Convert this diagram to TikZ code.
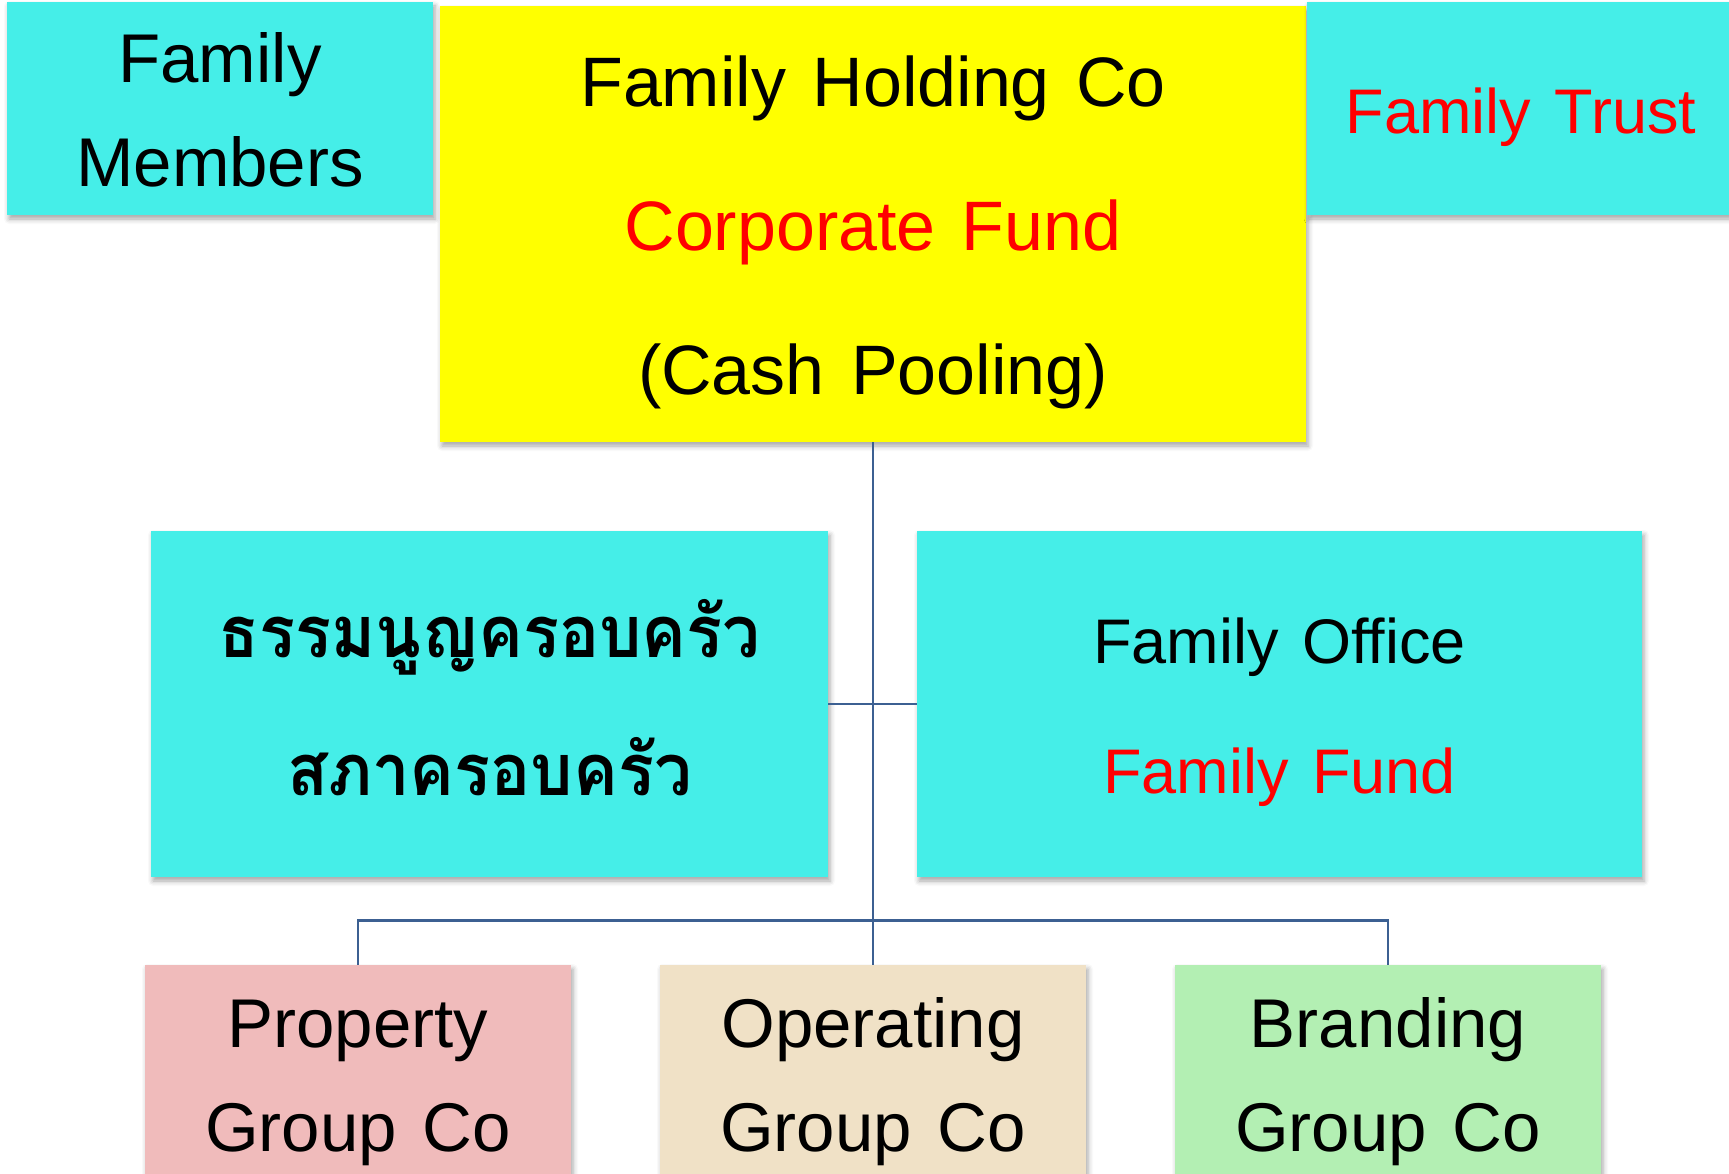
\documentclass[tikz,border=0pt]{standalone}
\usepackage{fontspec}
\setmainfont[WordSpace=1.35]{Liberation Sans}
\newfontfamily\thaifont[Script=Thai]{Loma}
\usetikzlibrary{shadows,shadows.blur}
\definecolor{cyanbox}{RGB}{69,238,232}
\definecolor{yellowbox}{RGB}{255,255,0}
\definecolor{pinkbox}{RGB}{240,187,187}
\definecolor{beigebox}{RGB}{240,225,198}
\definecolor{greenbox}{RGB}{179,239,179}
\definecolor{redtext}{RGB}{255,0,0}
\definecolor{conncol}{RGB}{60,96,146}
\begin{document}
\begin{tikzpicture}[x=1pt,y=-1pt,
  box/.style={rectangle, inner sep=0pt, draw=none,
    blur shadow={shadow xshift=2pt, shadow yshift=-4pt, shadow blur radius=5pt, shadow opacity=35}},
  lbl/.style={anchor=base, inner sep=0pt},
  bigfont/.style={font=\fontsize{69}{80}\selectfont},
  midfont/.style={font=\fontsize{63}{75}\selectfont},
  thaitext/.style={font=\thaifont\bfseries\fontsize{72}{86}\selectfont},
  conn/.style={draw=conncol, line width=2.5pt}]
\useasboundingbox (0,0) rectangle (1729,1174);
% boxes
\node[box, fill=cyanbox, minimum width=426pt, minimum height=213pt] (fm) at (220,108.5) {};
\node[box, fill=yellowbox, minimum width=866pt, minimum height=436pt] (hold) at (873,224) {};
\node[box, fill=cyanbox, minimum width=428pt, minimum height=213pt] (ft) at (1521,108.5) {};
\node[box, fill=cyanbox, minimum width=677pt, minimum height=346pt] (thai) at (489.5,704) {};
\node[box, fill=cyanbox, minimum width=725pt, minimum height=346pt] (fo) at (1279.5,704) {};
\node[box, fill=pinkbox, minimum width=426pt, minimum height=218pt] (prop) at (358,1074) {};
\node[box, fill=beigebox, minimum width=426pt, minimum height=218pt] (oper) at (873,1074) {};
\node[box, fill=greenbox, minimum width=426pt, minimum height=218pt] (brand) at (1388,1074) {};
% connectors
\draw[conn] (hold.south) -- (oper.north);
\draw[conn] (thai.east) -- (fo.west);
\draw[conn] (prop.north) -- ++(0,-44.3) -| (brand.north);
% texts
\node[lbl,bigfont] (fm1) at (220,83) {Family};
\node[lbl,bigfont] (fm2) at (220,187) {Members};
\node[lbl,font=\fontsize{70}{80}\selectfont] (h1) at (873,107) {Family Holding Co};
\node[lbl,font=\fontsize{70}{80}\selectfont,text=redtext] (h2) at (873,251) {Corporate Fund};
\node[lbl,font=\fontsize{70}{80}\selectfont] (h3) at (873,394) {(Cash Pooling)};
\node[lbl,midfont,text=redtext] (ft1) at (1521,134) {Family Trust};
\node[lbl,thaitext] (th1) at (489.5,657) {\scalebox{0.93}[1]{ธรรมนูญครอบครัว}};
\node[lbl,thaitext] (th2) at (489.5,795) {\scalebox{0.93}[1]{สภาครอบครัว}};
\node[lbl,midfont] (fo1) at (1279.5,663) {Family Office};
\node[lbl,midfont,text=redtext] (fo2) at (1279.5,793) {Family Fund};
\node[lbl,bigfont] (p1) at (358,1047) {Property};
\node[lbl,bigfont] (p2) at (358,1151) {Group Co};
\node[lbl,bigfont] (o1) at (873,1047) {Operating};
\node[lbl,bigfont] (o2) at (873,1151) {Group Co};
\node[lbl,bigfont] (b1) at (1388,1047) {Branding};
\node[lbl,bigfont] (b2) at (1388,1151) {Group Co};
\end{tikzpicture}
\end{document}
